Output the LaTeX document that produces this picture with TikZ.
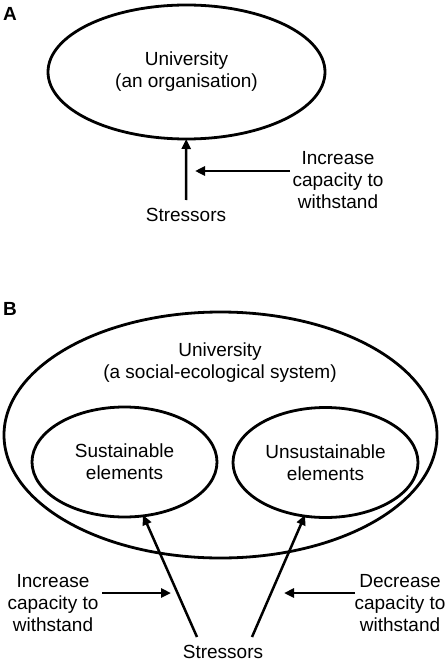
\documentclass[tikz,border=0pt]{standalone}
\usepackage{fontspec}
\setmainfont{Liberation Sans}
\usetikzlibrary{shapes.geometric,arrows.meta}
\begin{document}
\begin{tikzpicture}[x=1pt,y=-1pt,
  lbl/.style={font=\fontsize{19pt}{22pt}\selectfont, align=center, inner sep=0pt},
  panel/.style={font=\fontsize{19pt}{22pt}\selectfont\bfseries, inner sep=0pt},
  oval/.style={draw, ellipse, line width=2.8pt, inner sep=0pt, outer sep=0pt},
  arr/.style={line width=2.5pt, -{Triangle[length=10pt,width=9pt]}}]
\useasboundingbox (0,0) rectangle (447,663);
% Panel A
\node[panel] (pa) at (10,14) {A};
\node[oval, minimum width=277pt, minimum height=134pt, lbl] (uniA) at (186.5,72) {University\\(an organisation)};
\node[lbl] (stA) at (186,215) {Stressors};
\coordinate (stAtop) at (186,200);
\node[lbl] (incA) at (338,180) {Increase\\capacity to\\withstand};
\coordinate (incAend) at (290,171);
\coordinate (incAtip) at (195,171);
\draw[arr] (stAtop) -- (uniA);
\draw[arr] (incAend) -- (incAtip);
% Panel B
\node[panel] (pb) at (10,309) {B};
\node[oval, minimum width=433pt, minimum height=246pt] (uniB) at (220.5,435) {};
\node[lbl] (uniBtxt) at (220,362.5) {University\\(a social-ecological system)};
\node[oval, minimum width=185pt, minimum height=110pt, lbl] (sust) at (124.5,462) {Sustainable\\elements};
\node[oval, minimum width=185pt, minimum height=110pt, lbl] (unsust) at (325.5,462.5) {Unsustainable\\elements};
\node[lbl] (stB) at (223,652) {Stressors};
\coordinate (s1) at (197,637);
\coordinate (s2) at (252,637);
\coordinate (t1) at (143,515);
\coordinate (t2) at (305,515);
\draw[arr] (s1) -- (t1);
\draw[arr] (s2) -- (t2);
\node[lbl] (incB) at (53,603) {Increase\\capacity to\\withstand};
\node[lbl] (decB) at (400,603) {Decrease\\capacity to\\withstand};
\coordinate (incBend) at (102,593);
\coordinate (incBtip) at (171,593);
\coordinate (decBend) at (355,593);
\coordinate (decBtip) at (284,593);
\draw[arr] (incBend) -- (incBtip);
\draw[arr] (decBend) -- (decBtip);
\end{tikzpicture}
\end{document}
